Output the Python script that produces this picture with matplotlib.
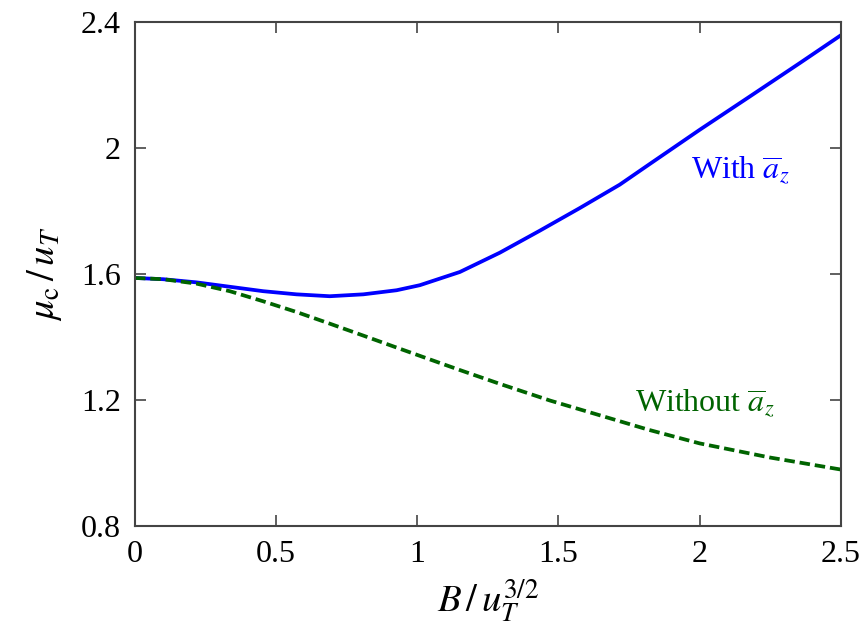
import numpy as np
import matplotlib
matplotlib.use('Agg')
import matplotlib.pyplot as plt

plt.rcParams['font.family'] = 'serif'
plt.rcParams['font.serif'] = ['Liberation Serif', 'DejaVu Serif']
plt.rcParams['mathtext.fontset'] = 'stix'

# values
x_with = [0, 0.1, 0.218, 0.336, 0.454, 0.572, 0.69, 0.809, 0.927, 1.009, 1.151,
          1.292, 1.434, 1.576, 1.717, 1.824, 2.0, 2.178, 2.355, 2.5]
y_with = [1.588, 1.584, 1.574, 1.560, 1.546, 1.536, 1.530, 1.536, 1.549, 1.565, 1.607,
          1.668, 1.738, 1.810, 1.884, 1.950, 2.058, 2.164, 2.270, 2.358]

x_without = [0, 0.1, 0.218, 0.336, 0.454, 0.572, 0.69, 0.809, 0.927, 1.021, 1.15,
             1.292, 1.47, 1.647, 1.82, 2.0, 2.25, 2.5]
y_without = [1.588, 1.584, 1.570, 1.546, 1.514, 1.480, 1.443, 1.405, 1.367, 1.337, 1.296,
             1.252, 1.199, 1.152, 1.106, 1.063, 1.018, 0.980]

xticks = [0, 0.5, 1, 1.5, 2, 2.5]
xtick_labels = ['0', '0.5', '1', '1.5', '2', '2.5']
yticks = [0.8, 1.2, 1.6, 2.0, 2.4]
ytick_labels = ['0.8', '1.2', '1.6', '2', '2.4']

fig = plt.figure(figsize=(8.65, 6.31), dpi=100)
ax = fig.add_axes([0.156, 0.166, 0.816, 0.799])

ax.plot(x_with, y_with, color='#0000ff', lw=2.7, solid_joinstyle='round')
ax.plot(x_without, y_without, color='#006400', lw=2.7, dashes=(2.8, 1.3))

ax.text(2.146, 1.93, r'With $\overline{a}_z$', color='#0000ff', fontsize=23,
        ha='center', va='center')
ax.text(2.018, 1.19, r'Without $\overline{a}_z$', color='#006400', fontsize=23,
        ha='center', va='center')

ax.set_xlim(0, 2.5)
ax.set_ylim(0.8, 2.4)
ax.set_xticks(xticks)
ax.set_xticklabels(xtick_labels)
ax.set_yticks(yticks)
ax.set_yticklabels(ytick_labels)
ax.tick_params(direction='in', length=8, width=1.2, color='#444444', labelsize=23,
               top=True, right=True, pad=10)
for s in ax.spines.values():
    s.set_color('#444444')
    s.set_linewidth(1.5)

ax.set_xlabel(r'$B\,/\,u_T^{3/2}$', fontsize=28, labelpad=6)
ax.set_ylabel(r'$\mu_{\mathrm{c}}\,/\,u_T$', fontsize=28, labelpad=12)

fig.savefig('out.png', dpi=100)
